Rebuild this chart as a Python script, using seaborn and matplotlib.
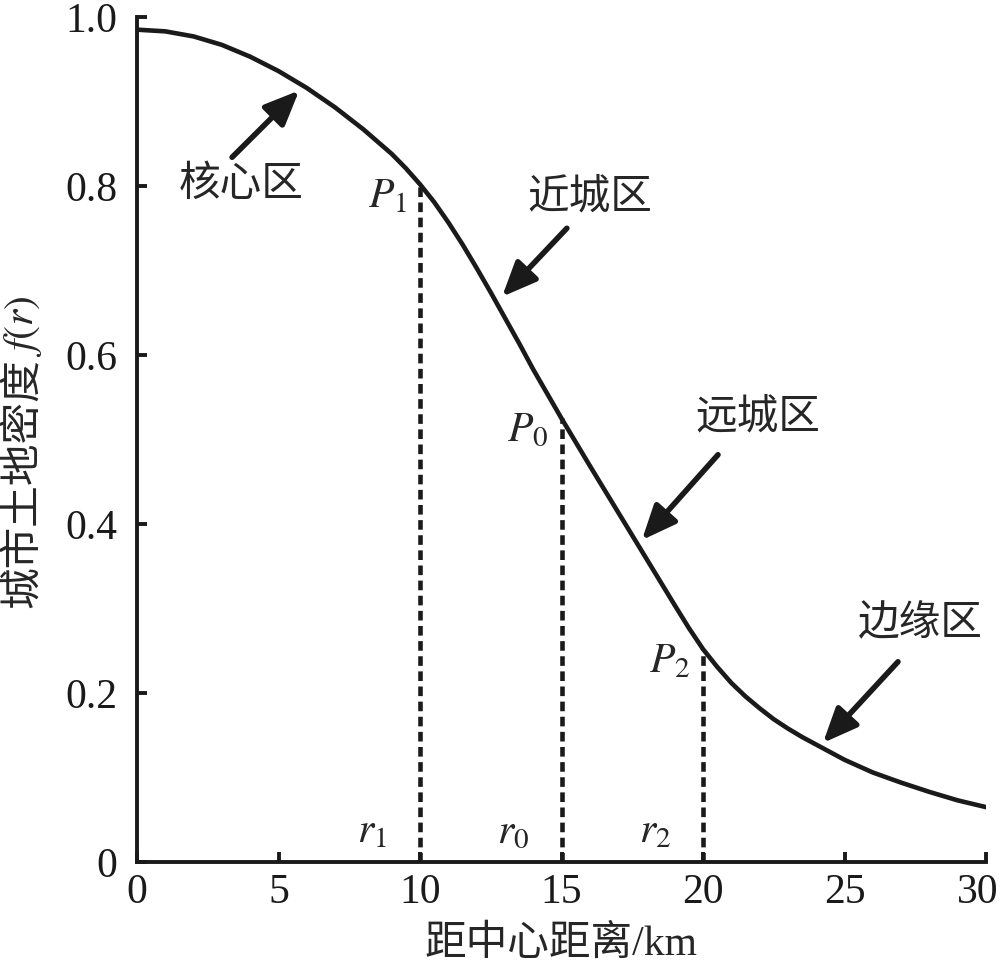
import numpy as np
import pandas as pd
import seaborn as sns
import matplotlib.pyplot as plt
from matplotlib.transforms import ScaledTranslation

# urban land density f(r) (finer steps where it bends most)
r_km = [0, 1, 2, 3, 4, 5, 6, 7, 8, 9, 9.5, 10, 10.5, 11, 11.5, 12, 12.5,
        13, 13.5, 14, 14.5, 15, 16, 17, 18, 19, 19.5, 20, 20.5, 21, 21.5,
        22, 22.5, 23, 23.5, 24, 25, 26, 27, 28, 29, 30]
f_r = [0.985, 0.983, 0.977, 0.967, 0.953, 0.936, 0.916, 0.893, 0.867, 0.838,
       0.821, 0.802, 0.781, 0.757, 0.731, 0.703, 0.674, 0.644, 0.614, 0.583,
       0.554, 0.525, 0.469, 0.414, 0.359, 0.304, 0.277, 0.252, 0.231, 0.212,
       0.196, 0.182, 0.169, 0.158, 0.148, 0.139, 0.121, 0.106, 0.094, 0.083,
       0.073, 0.065]

# marked points P1, P0, P2 at r1, r0, r2
mark_r = [10, 15, 20]
mark_p = ['$P_1$', '$P_0$', '$P_2$']
mark_rlab = ['$r_1$', '$r_0$', '$r_2$']

zones = ['核心区', '近城区', '远城区', '边缘区']

xticks = [0, 5, 10, 15, 20, 25, 30]
yticks = [0, 0.2, 0.4, 0.6, 0.8, 1.0]
ytick_labels = ['0', '0.2', '0.4', '0.6', '0.8', '1.0']

df = pd.DataFrame({'r': r_km, 'f': f_r})

sns.set_theme(style='ticks')
plt.rcParams['font.family'] = ['Liberation Serif', 'Noto Sans CJK SC']
plt.rcParams['mathtext.fontset'] = 'stix'
plt.rcParams['axes.unicode_minus'] = False

fig = plt.figure(figsize=(10, 9.71), dpi=100)
ax = fig.add_axes([0.137, 0.1122, 0.849, 0.8703])

sns.lineplot(data=df, x='r', y='f', ax=ax, color='k', lw=3.3)

# dashed drop lines from the curve down to the axis
mark_f = [df.loc[df['r'] == r, 'f'].iloc[0] for r in mark_r]
for r, fv in zip(mark_r, mark_f):
    ax.plot([r, r], [0, fv], color='k', lw=3.3, dashes=(2.1, 1.2))

fs = 30
for r, fv, p, rl in zip(mark_r, mark_f, mark_p, mark_rlab):
    ax.text(r - 0.45, fv - 0.015, p, fontsize=fs, ha='right', va='center')
    ax.text(r - 1.7, 0.035, rl, fontsize=fs, ha='center', va='center')

# zone labels and arrows
text_pos = [(3.67, 0.80), (16.0, 0.786), (21.94, 0.525), (27.67, 0.280)]
tails = [(3.36, 0.834), (15.19, 0.750), (20.53, 0.482), (26.89, 0.237)]
heads = [(5.73, 0.913), (12.90, 0.669), (17.84, 0.381), (24.24, 0.141)]
for name, tp, t, h in zip(zones, text_pos, tails, heads):
    ax.text(tp[0], tp[1], name, fontsize=fs, ha='center', va='center')
    ax.annotate('', xy=h, xytext=t,
                arrowprops=dict(arrowstyle='-|>,head_length=1.05,head_width=0.45',
                                mutation_scale=20, lw=4.0, color='k',
                                shrinkA=0, shrinkB=0))

ax.set_xlim(0, 30)
ax.set_ylim(0, 1.0)
ax.set_xticks(xticks)
ax.set_xticklabels([str(t) for t in xticks])
ax.set_yticks(yticks)
ax.set_yticklabels(ytick_labels)

sns.despine(ax=ax)
for s in ['left', 'bottom']:
    ax.spines[s].set_linewidth(2.8)
    ax.spines[s].set_color('k')
ax.tick_params(axis='both', direction='in', length=7, width=2.8, colors='k',
               labelsize=fs)
ax.tick_params(axis='x', pad=8)
ax.tick_params(axis='y', pad=14)

# last x tick label sits at the figure edge, nudge it in a little
last = ax.get_xticklabels()[-1]
last.set_transform(last.get_transform() + ScaledTranslation(-0.08, 0, fig.dpi_scale_trans))

ax.set_xlabel('距中心距离/km', fontsize=fs)
ax.xaxis.set_label_coords(0.5, -0.075)
ax.set_ylabel('城市土地密度', fontsize=fs)
ax.yaxis.set_label_coords(-0.1095, 0.4485)
ax.text(-0.1095, 0.598, '$f(r)$', fontsize=fs, rotation=90, rotation_mode='anchor',
        ha='left', va='bottom', transform=ax.transAxes)

fig.savefig('out.png', dpi=100)
